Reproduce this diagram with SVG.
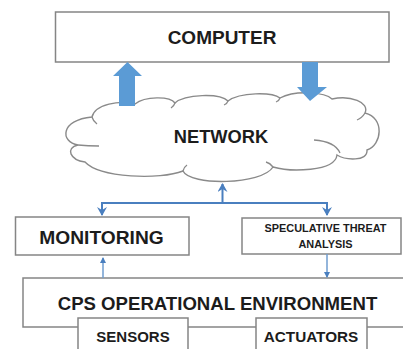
<svg xmlns="http://www.w3.org/2000/svg" width="403" height="349" viewBox="0 0 403 349">
<defs>
<style>
.box{fill:#fff;stroke:#858585;stroke-width:1.5}
.txt{font-family:"Liberation Sans",Arial,sans-serif;font-weight:bold;fill:#1c1c1c;text-anchor:middle}
.cloud{fill:#fff;stroke:#8a8a8a;stroke-width:1.4}
.tick{fill:none;stroke:#8a8a8a;stroke-width:1.3}
.conn{fill:none;stroke:#4a7fbf;stroke-width:2}
.thin{fill:none;stroke:#6f9ccf;stroke-width:1.5}
.big{fill:#5b9bd5}
</style>
<marker id="ah" markerWidth="10" markerHeight="10" refX="8" refY="5" orient="auto" markerUnits="userSpaceOnUse">
<path d="M0,0 L9,5 L0,10 L3,5 Z" fill="#4a7fbf"/>
</marker>
<marker id="ahs" markerWidth="6" markerHeight="6" refX="5" refY="3" orient="auto" markerUnits="userSpaceOnUse">
<path d="M0,0 L6,3 L0,6 Z" fill="#4a7fbf"/>
</marker>
</defs>
<rect width="403" height="349" fill="#fff"/>

<g id="cps">
<rect class="box" x="23" y="278" width="390" height="49"/>
<text class="txt" x="217.5" y="310" font-size="18.6">CPS OPERATIONAL ENVIRONMENT</text>
</g>
<g id="sensors">
<rect class="box" x="78" y="318" width="110" height="40"/>
<text class="txt" x="133" y="342" font-size="15">SENSORS</text>
</g>
<g id="actuators">
<rect class="box" x="256" y="318" width="111" height="40"/>
<text class="txt" x="311" y="342" font-size="15.3">ACTUATORS</text>
</g>

<g id="computer">
<rect class="box" x="55.5" y="12" width="333.5" height="50"/>
<text class="txt" x="222" y="43.5" font-size="19">COMPUTER</text>
</g>

<g id="network">
<path class="cloud" d="M78,145 C60,142 60,120 92,117 C95,104 120,100 135,104 C145,96 170,96 175,103 C185,94 220,93 228,101 C240,92 272,92 280,98 C295,90 325,92 332,99 C350,95 370,102 365,113 C385,118 382,145 367,150 C368,162 345,160 337,155 C335,172 290,172 273,167 C262,185 190,186 183,171 C160,180 100,178 85,162 C70,160 65,148 78,145 Z"/>
<path class="tick" d="M78,145 Q88,146 99,146 M92,117 Q93,121 97,124 M175,103 Q174,106 171,108 M228,101 Q227,104 224,105 M280,98 Q279,101 276,102 M365,113 Q362,118 357,120 M314,140 C328,141 337,146 340,153 M183,171 Q184,167 187,165 M273,167 Q270,163 266,162"/>
<text class="txt" x="221" y="143" font-size="18.3">NETWORK</text>
</g>

<g id="monitoring">
<rect class="box" x="15.5" y="217" width="173.5" height="38"/>
<text class="txt" x="101.5" y="244" font-size="19.2">MONITORING</text>
</g>
<g id="speculative">
<rect class="box" x="242" y="218" width="159" height="36"/>
<text class="txt" x="325.5" y="232" font-size="10.9">SPECULATIVE THREAT</text>
<text class="txt" x="325.5" y="248" font-size="10.9">ANALYSIS</text>
</g>

<g id="connectors">
<path class="big" d="M119,106 L135,106 L135,76 L142,76 L127.5,62 L113,76 L119,76 Z"/>
<path class="big" d="M302,62 L318,62 L318,87 L327,87 L310,101 L297,87 L302,87 Z"/>
<path class="conn" d="M222.5,203 L222.5,184" marker-end="url(#ah)"/>
<path class="conn" d="M102,203 L327,203"/>
<path class="conn" d="M102,202 L102,215" marker-end="url(#ah)"/>
<path class="conn" d="M327,202 L327,215" marker-end="url(#ah)"/>
<path class="thin" d="M103,278 L103,258" marker-end="url(#ahs)"/>
<path class="thin" d="M327,254 L327,277" marker-end="url(#ahs)"/>
</g>
</svg>
